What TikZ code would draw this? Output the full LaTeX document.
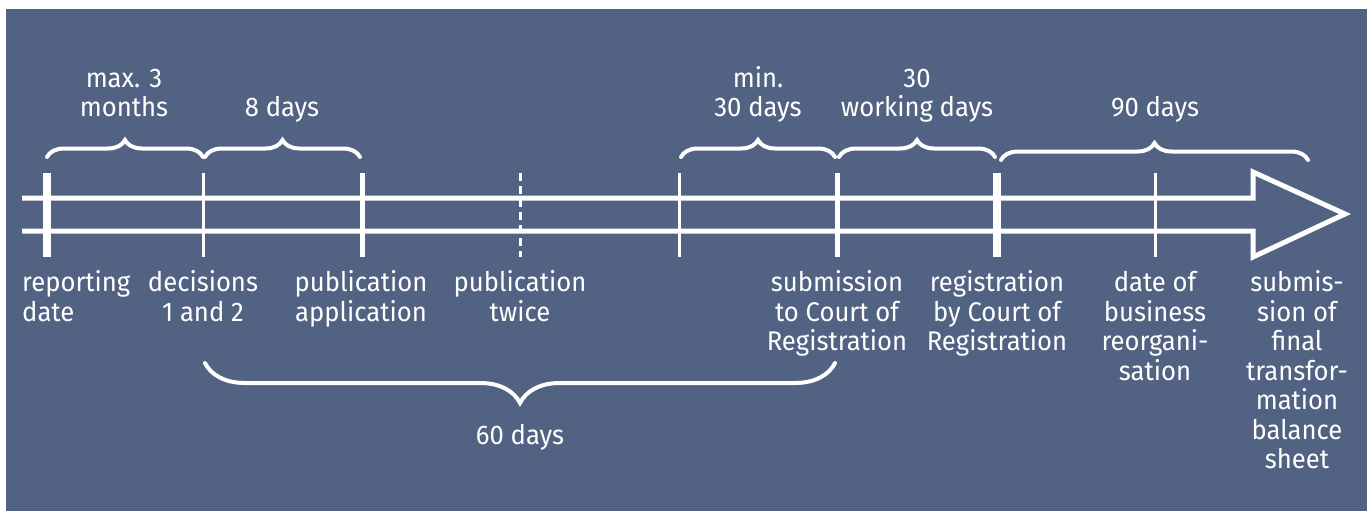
\documentclass[tikz,border=0pt]{standalone}
\usepackage{fontspec}
\setmainfont[FakeStretch=0.95]{Fira Sans}
\usetikzlibrary{decorations.pathreplacing}
\definecolor{bgblue}{RGB}{82,98,130}
\begin{document}
\begin{tikzpicture}[x=1pt,y=-1pt,
  every node/.style={text=white,inner sep=0pt,font=\fontsize{27}{29.5}\selectfont},
  lbl/.style={align=center,anchor=base},
  axis/.style={draw=white,line width=5pt,miter limit=20},
  tickthin/.style={draw=white,line width=3pt},
  tickmid/.style={draw=white,line width=5pt},
  tickthick/.style={draw=white,line width=8pt},
  tickdash/.style={draw=white,line width=3pt,dash pattern=on 8pt off 5pt},
  topbrace/.style={draw=white,line width=4pt,line cap=round,decorate,decoration={brace,amplitude=17pt}},
  lowbrace/.style={draw=white,line width=4pt,line cap=round,decorate,decoration={brace,amplitude=40pt}}]
\useasboundingbox (0,0) rectangle (1371,511);
\fill[bgblue] (6,9) rectangle (1367,511);
% axis
\coordinate (a0) at (22,198);
\coordinate (b0) at (22,231);
\coordinate (a1) at (1253,198);
\coordinate (a2) at (1253,172);
\coordinate (tip) at (1345,214);
\coordinate (b2) at (1253,257);
\coordinate (b1) at (1253,231);
\draw[axis] (a0) -- (a1) -- (a2) -- (tip) -- (b2) -- (b1) -- (b0);
% ticks
\foreach \n/\x in {1/47,2/203,3/362,4/520,5/679,6/837,7/997,8/1155}{
  \coordinate (t\n) at (\x,173);
  \coordinate (u\n) at (\x,257);
}
\draw[tickthick] (t1) -- (u1);
\draw[tickthin] (t2) -- (u2);
\draw[tickmid] (t3) -- (u3);
\draw[tickdash] (t4) -- (u4);
\draw[tickthin] (t5) -- (u5);
\draw[tickmid] (t6) -- (u6);
\draw[tickthick] (t7) -- (u7);
\draw[tickthin] (t8) -- (u8);
% top braces
\coordinate (s1) at (47,157);
\coordinate (s2) at (203,157);
\coordinate (s3) at (360,157);
\coordinate (s5) at (681,157);
\coordinate (s6) at (837,157);
\coordinate (s7) at (997,157);
\coordinate (s9) at (1308,160);
\coordinate (s7b) at (1001,160);
\draw[topbrace] (s1) -- (s2);
\draw[topbrace] ([xshift=2pt]s2) -- (s3);
\draw[topbrace] (s5) -- ([xshift=-2pt]s6);
\draw[topbrace] ([xshift=2pt]s6) -- ([xshift=-2pt]s7);
\draw[topbrace] (s7b) -- (s9);
% bottom brace
\coordinate (l1) at (205,363);
\coordinate (l2) at (835,363);
\draw[lowbrace] (l2) -- (l1);
% top labels (anchor = baseline of last line)
\node[lbl] (m3) at (124,117) {max. 3\\months};
\node[lbl] (d8) at (282,117) {8 days};
\node[lbl] (m30) at (758,117) {min.\\30 days};
\node[lbl] (w30) at (917,117) {30\\working days};
\node[lbl] (d90) at (1155,117) {90 days};
\node[lbl] (d60) at (520,444) {60 days};
% bottom labels
\node[align=left,anchor=base west] (rep) at (22,321) {reporting\\date};
\node[lbl] (dec) at (203,321) {decisions\\1 and 2};
\node[lbl] (pub) at (361,321) {publication\\application};
\node[lbl] (pub2) at (520,321) {publication\\twice};
\node[lbl] (sub) at (837,350.5) {submission\\to Court of\\Registration};
\node[lbl] (reg) at (997,350.5) {registration\\by Court of\\Registration};
\node[lbl] (dob) at (1155,380) {date of\\business\\reorgani-\\sation};
\node[lbl] (fin) at (1297,468.5) {submis-\\sion of\\final\\transfor-\\mation\\balance\\sheet};
\end{tikzpicture}
\end{document}
